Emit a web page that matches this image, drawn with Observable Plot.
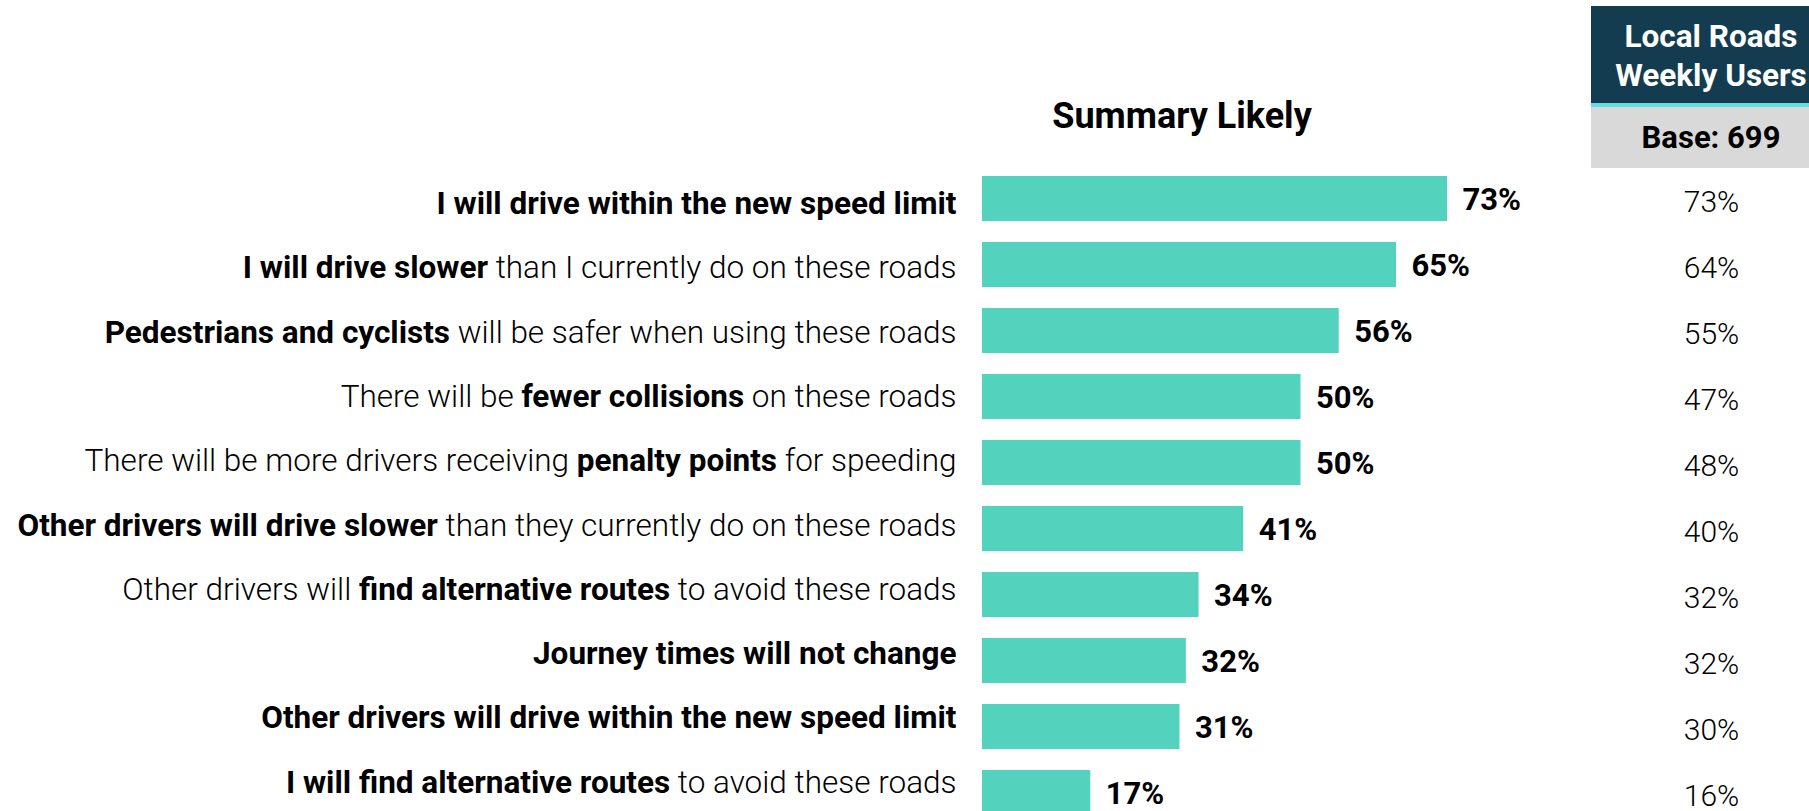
<!DOCTYPE html>
<html>
<head>
<meta charset="utf-8">
<script src="https://cdn.jsdelivr.net/npm/d3@7"></script>
<script src="https://cdn.jsdelivr.net/npm/@observablehq/plot@0.6"></script>
<style>
  html, body { margin: 0; padding: 0; background: #ffffff; }
  #wrap { position: relative; width: 1809px; height: 811px; overflow: hidden; font-family: Roboto, "Noto Sans", sans-serif; }
  #chart { position: absolute; left: 0; top: 0; }
  #title { position: absolute; left: 1182px; top: 98px; transform: translateX(-50%); font-size: 36px; line-height: 36px; font-weight: 700; color: #000; white-space: nowrap; }
  #hdr { position: absolute; left: 1591px; top: 6px; width: 240px; }
  #hdr .navy { background: #133C51; height: 97px; color: #fff; font-weight: 700; font-size: 31.5px; line-height: 39px; text-align: center; box-sizing: border-box; padding-top: 11px; white-space: nowrap; }
  #hdr .cyan { background: #5FE0E0; height: 4px; }
  #hdr .grey { background: #D9D9D9; height: 61px; line-height: 61px; font-size: 31px; font-weight: 700; text-align: center; color: #000; }
  svg text { white-space: pre; }
</style>
</head>
<body>
<div id="wrap">
  <div id="chart"></div>
  <div id="title"></div>
  <div id="hdr"><div class="navy"></div><div class="cyan"></div><div class="grey"></div></div>
</div>
<script>
const chartTitle = "Summary Likely";
const columnHeader = ["Local Roads", "Weekly Users"];
const columnBase = "Base: 699";

const categories = [
  "I will drive within the new speed limit",
  "I will drive slower than I currently do on these roads",
  "Pedestrians and cyclists will be safer when using these roads",
  "There will be fewer collisions on these roads",
  "There will be more drivers receiving penalty points for speeding",
  "Other drivers will drive slower than they currently do on these roads",
  "Other drivers will find alternative routes to avoid these roads",
  "Journey times will not change",
  "Other drivers will drive within the new speed limit",
  "I will find alternative routes to avoid these roads"
];
const boldParts = [
  "I will drive within the new speed limit",
  "I will drive slower",
  "Pedestrians and cyclists",
  "fewer collisions",
  "penalty points",
  "Other drivers will drive slower",
  "find alternative routes",
  "Journey times will not change",
  "Other drivers will drive within the new speed limit",
  "I will find alternative routes"
];
const summaryLikely = [73, 65, 56, 50, 50, 41, 34, 32, 31, 17];
const localWeeklyUsers = [73, 64, 55, 47, 48, 40, 32, 32, 30, 16];

const data = categories.map((label, i) => ({
  label, bold: boldParts[i], value: summaryLikely[i], local: localWeeklyUsers[i]
}));

document.getElementById("title").textContent = chartTitle;
document.querySelector("#hdr .navy").innerHTML = columnHeader.map(s => `<div>${s}</div>`).join("");
document.querySelector("#hdr .grey").textContent = columnBase;

// Row labels: bold/regular runs; the label column in the source is set slightly tighter than the bar rows.
const labelRowTightening = 0.974;
function mixedLabels(index, scales, values, dimensions, context, next) {
  const g = next(index, scales, values, dimensions, context);
  const ns = "http://www.w3.org/2000/svg";
  const texts = Array.from(g.querySelectorAll("text"));
  let y0 = null;
  texts.forEach((t, j) => {
    const d = data[index[j]];
    const k = d.label.indexOf(d.bold);
    const parts = [
      [d.label.slice(0, k), 300],
      [d.bold, 700],
      [d.label.slice(k + d.bold.length), 300]
    ].filter(p => p[0].length);
    t.textContent = "";
    for (const [s, w] of parts) {
      const ts = document.createElementNS(ns, "tspan");
      ts.setAttribute("font-weight", w);
      ts.textContent = s;
      t.appendChild(ts);
    }
    const tr = t.getAttribute("transform");
    const m = tr && tr.match(/translate\(\s*([-\d.e]+)\s*[, ]\s*([-\d.e]+)\s*\)/);
    if (m) {
      const y = +m[2];
      if (y0 === null) y0 = y;
      t.setAttribute("transform", tr.replace(m[0], `translate(${m[1]},${y0 + (y - y0) * labelRowTightening})`));
    }
  });
  return g;
}

const chart = Plot.plot({
  width: 1809,
  height: 811,
  marginLeft: 982,
  marginRight: 190,
  marginTop: 0,
  marginBottom: 0,
  style: { fontFamily: "Roboto, 'Noto Sans', sans-serif", background: "#ffffff", color: "#000" },
  x: { domain: [0, 100], axis: null },
  y: { domain: categories, range: [155.5, 836.5], padding: 0.318, axis: null },
  marks: [
    Plot.barX(data, { x: "value", y: "label", fill: "#53D2BE" }),
    Plot.text(data, {
      x: "value", y: "label", text: d => d.value + "%",
      textAnchor: "start", dx: 15, dy: 1, fontSize: 31, fontWeight: 700, fill: "#000"
    }),
    Plot.text(data, {
      y: "label", frameAnchor: "left", text: "label",
      textAnchor: "end", dx: -26, dy: 5, fontSize: 31.5, fill: "#000",
      render: mixedLabels
    }),
    Plot.text(data, {
      y: "label", frameAnchor: "right", text: d => d.local + "%",
      textAnchor: "middle", dx: 92, dy: 3, fontSize: 30, fontWeight: 300, fill: "#000"
    })
  ]
});
document.getElementById("chart").appendChild(chart);
</script>
</body>
</html>
